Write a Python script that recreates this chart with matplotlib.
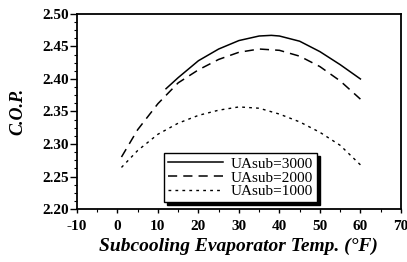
import matplotlib
matplotlib.use("Agg")
import matplotlib.pyplot as plt
from matplotlib.ticker import MultipleLocator

# Data
x_3000 = [12, 15, 20, 25, 30, 35, 38, 40, 45, 50, 55, 60]
y_3000 = [2.385, 2.402, 2.428, 2.446, 2.459, 2.466, 2.467, 2.466, 2.458, 2.442, 2.422, 2.400]

x_2000 = [1, 5, 10, 15, 20, 25, 30, 35, 40, 45, 50, 55, 60]
y_2000 = [2.280, 2.322, 2.362, 2.394, 2.414, 2.430, 2.441, 2.446, 2.444, 2.435, 2.419, 2.397, 2.369]

x_1000 = [1, 5, 10, 15, 20, 25, 30, 35, 40, 45, 50, 55, 60]
y_1000 = [2.264, 2.290, 2.315, 2.332, 2.344, 2.352, 2.357, 2.355, 2.346, 2.334, 2.318, 2.298, 2.268]

labels = ["UAsub=3000", "UAsub=2000", "UAsub=1000"]
xticks = [-10, 0, 10, 20, 30, 40, 50, 60, 70]
yticks = [2.20, 2.25, 2.30, 2.35, 2.40, 2.45, 2.50]

serif = ["Liberation Serif", "DejaVu Serif"]

fig = plt.figure(figsize=(4.07, 2.62), dpi=100)
ax = fig.add_axes([0.189, 0.202, 0.796, 0.745])

ax.plot(x_3000, y_3000, color="black", lw=1.1, ls="-", label=labels[0])
ax.plot(x_2000, y_2000, color="black", lw=1.1, ls=(0, (6, 4)), label=labels[1])
ax.plot(x_1000, y_1000, color="black", lw=1.0, ls=(0, (2, 3)), label=labels[2])

ax.set_xlim(-10, 70)
ax.set_ylim(2.20, 2.50)
ax.set_xticks(xticks)
ax.set_yticks(yticks)
ax.set_xticklabels([str(v) for v in xticks])
ax.set_yticklabels([f"{v:.2f}" for v in yticks])
ax.xaxis.set_minor_locator(MultipleLocator(5))
ax.yaxis.set_minor_locator(MultipleLocator(0.0125))
ax.tick_params(which="major", direction="out", width=1, labelsize=11)
ax.tick_params(axis="x", which="major", length=3, pad=5)
ax.tick_params(axis="y", which="major", length=5, pad=1)
ax.tick_params(which="minor", direction="out", length=2, width=0.8)
for lab in ax.get_xticklabels() + ax.get_yticklabels():
    lab.set_fontfamily(serif)
    lab.set_fontweight("bold")
for s in ax.spines.values():
    s.set_linewidth(1.3)

ax.set_xlabel("Subcooling Evaporator Temp. (°F)", fontfamily=serif, fontsize=14,
              fontweight="bold", fontstyle="italic", labelpad=3)
ax.set_ylabel("C.O.P.", fontfamily=serif, fontsize=13,
              fontweight="bold", fontstyle="italic", labelpad=11)

leg = ax.legend(loc="lower left", bbox_to_anchor=(0.27, 0.036), frameon=True,
                fancybox=False, shadow={"color": "black", "alpha": 1},
                prop={"family": serif, "size": 11}, handlelength=3.6,
                borderpad=0.25, labelspacing=0.0, handletextpad=0.5,
                borderaxespad=0)
leg.get_frame().set_edgecolor("black")
leg.get_frame().set_linewidth(1.0)

fig.savefig("out.png", dpi=100)
